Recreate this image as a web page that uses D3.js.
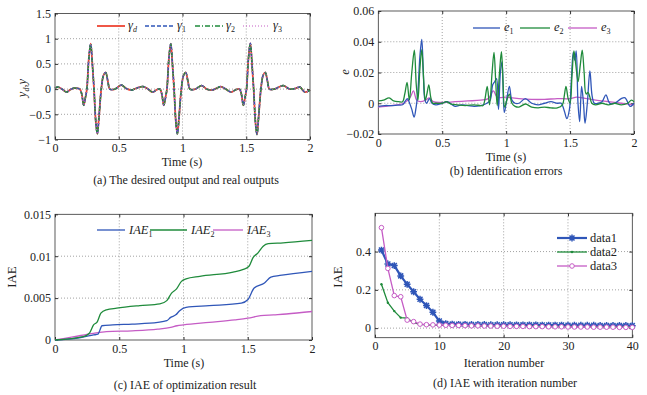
<!DOCTYPE html>
<html>
<head>
<meta charset="utf-8">
<script src="https://cdn.jsdelivr.net/npm/d3@7/dist/d3.min.js"></script>
<style>
  body { margin: 0; background: #fff; }
  text { font-family: "Liberation Serif", "Times New Roman", serif; fill: #222; }
</style>
</head>
<body>
<svg id="fig" width="647" height="395"></svg>
<script>
// ---- (a) output signal; yd, y1, y2, y3 coincide at this scale ----
const outT = [0, 0.025, 0.055, 0.09, 0.12, 0.15, 0.175,
  0.195, 0.21, 0.225, 0.24, 0.25, 0.265, 0.28, 0.293, 0.306, 0.32, 0.332, 0.345, 0.363, 0.38, 0.397, 0.415, 0.43,
  0.47, 0.52, 0.56, 0.6, 0.64, 0.69, 0.73, 0.765, 0.8,
  0.823, 0.838, 0.853, 0.868, 0.878, 0.893, 0.908, 0.921, 0.934, 0.948, 0.96, 0.973, 0.991, 1.008, 1.025, 1.043, 1.058,
  1.1, 1.15, 1.19, 1.23, 1.27, 1.3, 1.34, 1.38, 1.42,
  1.447, 1.462, 1.477, 1.492, 1.502, 1.517, 1.532, 1.545, 1.558, 1.572, 1.584, 1.597, 1.615, 1.632, 1.649, 1.667, 1.682,
  1.72, 1.79, 1.84, 1.88, 1.92, 1.96, 2.0];
const outV = [0.02, 0.04, 0.0, -0.06, -0.01, 0.02, 0.015,
  0, -0.1, -0.32, -0.15, 0, 0.6, 0.9, 0.5, 0, -0.65, -0.89, -0.55, 0, 0.27, 0.33, 0.15, 0,
  0.0, 0.08, 0.01, -0.02, 0.02, 0.05, 0.0, -0.06, -0.01,
  0, -0.1, -0.32, -0.15, 0, 0.6, 0.9, 0.5, 0, -0.65, -0.89, -0.55, 0, 0.27, 0.33, 0.15, 0,
  0.0, 0.07, 0.0, -0.02, 0.02, 0.05, 0.0, -0.06, -0.01,
  0, -0.1, -0.32, -0.15, 0, 0.6, 0.91, 0.5, 0, -0.65, -0.9, -0.55, 0, 0.27, 0.33, 0.15, 0,
  0.0, 0.07, 0.0, 0.01, 0.04, -0.06, -0.02];

// ---- (b) identification errors [t, e] ----
const e1 = [[0,-0.002],[0.05,-0.0015],[0.1,-0.0015],[0.15,-0.0012],[0.19,-0.001],[0.212,0.0015],[0.227,0.003],[0.245,0.0],
  [0.262,-0.004],[0.28,-0.009],[0.295,-0.003],[0.31,0.008],[0.325,0.03],[0.34,0.0415],[0.352,0.02],[0.365,0.002],[0.378,0.0],
  [0.4,0.003],[0.42,0.0],[0.45,-0.001],[0.5,0.0],[0.54,0.001],[0.6,-0.002],[0.65,-0.001],[0.7,-0.0015],[0.75,-0.002],[0.8,-0.0015],
  [0.85,0.0],[0.875,0.002],[0.895,0.012],[0.91,0.014],[0.925,0.016],[0.94,-0.004],[0.955,0.02],[0.968,0.027],[0.985,-0.006],
  [1.0,0.0],[1.025,0.011],[1.045,0.002],[1.07,0.0],[1.1,0.0],[1.15,0.003],[1.2,0.0],[1.25,-0.001],[1.3,0.0],[1.35,0.001],[1.4,0.0],
  [1.43,0.0],[1.455,-0.005],[1.475,-0.010],[1.495,-0.004],[1.51,0.015],[1.525,0.033],[1.537,0.028],[1.548,0.034],[1.562,0.0],
  [1.575,-0.012],[1.59,0.011],[1.605,0.0],[1.617,-0.013],[1.635,0.0],[1.655,0.021],[1.672,0.005],[1.69,0.0],[1.72,0.0],[1.75,0.001],
  [1.78,0.0055],[1.81,0.0],[1.85,0.0],[1.9,0.003],[1.93,0.0035],[1.97,-0.002],[2.0,0.0]];
const e2 = [[0,0.0015],[0.04,0.002],[0.085,0.0035],[0.12,0.0015],[0.16,0.001],[0.19,0.001],[0.207,0.006],[0.225,0.0135],[0.243,0.002],
  [0.262,0.02],[0.282,0.0345],[0.297,0.012],[0.31,0.002],[0.325,0.022],[0.34,0.0348],[0.355,0.015],[0.367,0.002],[0.38,0.006],
  [0.395,0.012],[0.41,0.004],[0.425,0.0],[0.45,0.0],[0.5,0.0],[0.53,0.001],[0.57,-0.0005],[0.62,-0.001],[0.68,-0.0015],[0.75,-0.001],
  [0.8,-0.0015],[0.82,-0.0015],[0.835,0.003],[0.852,0.011],[0.87,-0.001],[0.89,0.02],[0.905,0.033],[0.918,0.015],[0.93,-0.0015],
  [0.948,0.02],[0.963,0.0335],[0.975,0.015],[0.988,-0.0025],[1.005,0.002],[1.025,0.006],[1.045,0.0],[1.07,-0.002],[1.1,-0.0025],
  [1.15,-0.0005],[1.2,-0.0025],[1.25,-0.003],[1.3,-0.0025],[1.35,-0.003],[1.4,-0.003],[1.44,-0.001],[1.455,0.005],[1.468,0.011],
  [1.485,0.003],[1.5,0.0],[1.515,0.018],[1.53,0.034],[1.545,0.025],[1.562,0.014],[1.58,0.025],[1.595,0.0345],[1.61,0.02],[1.625,0.006],
  [1.64,0.007],[1.655,0.004],[1.67,0.0],[1.7,-0.001],[1.75,0.0],[1.8,-0.001],[1.85,0.0],[1.9,-0.001],[1.95,0.0],[1.98,0.002],[2.0,0.001]];
const e3 = [[0,-0.0025],[0.1,-0.0015],[0.2,0.0],[0.25,0.004],[0.275,0.008],[0.3,0.002],[0.33,0.001],[0.37,0.002],[0.4,0.0035],
  [0.43,0.001],[0.5,0.0005],[0.6,0.001],[0.7,0.0015],[0.8,0.002],[0.86,0.003],[0.9,0.008],[0.93,0.004],[1.0,0.004],[1.05,0.0035],
  [1.1,0.003],[1.2,0.0025],[1.3,0.0025],[1.4,0.003],[1.5,0.003],[1.55,0.004],[1.6,0.0035],[1.7,0.002],[1.8,0.001],[1.9,0.0],[2.0,-0.001]];

// ---- (c) IAE vs time [t, IAE] ----
const iae1 = [[0,0],[0.1,0.0001],[0.2,0.0003],[0.3,0.0006],[0.335,0.0007],[0.35,0.0012],[0.365,0.0017],[0.45,0.0018],[0.6,0.0019],
  [0.8,0.0021],[0.87,0.0023],[0.9,0.0027],[0.94,0.003],[0.97,0.0035],[1.02,0.0039],[1.2,0.0041],[1.45,0.0044],[1.5,0.0048],
  [1.55,0.0062],[1.63,0.0068],[1.68,0.0075],[1.75,0.0077],[2.0,0.0082]];
const iae2 = [[0,0],[0.22,0.0004],[0.267,0.0008],[0.3,0.0018],[0.33,0.0022],[0.357,0.0032],[0.4,0.0036],[0.48,0.0038],[0.66,0.0041],
  [0.816,0.0043],[0.87,0.0047],[0.907,0.0056],[0.946,0.0061],[0.984,0.007],[1.02,0.0073],[1.127,0.0076],[1.386,0.0081],[1.46,0.0084],
  [1.51,0.0088],[1.54,0.0098],[1.58,0.0104],[1.62,0.0112],[1.66,0.0115],[1.775,0.0116],[2.0,0.0119]];
const iae3 = [[0,0],[0.15,0.0004],[0.3,0.0008],[0.4,0.001],[0.6,0.0011],[0.8,0.0013],[0.9,0.0015],[0.95,0.0017],[1.0,0.0018],
  [1.2,0.0021],[1.4,0.0024],[1.5,0.0026],[1.6,0.0029],[1.7,0.003],[1.8,0.0031],[2.0,0.0034]];

// ---- (d) IAE vs iteration ----
const iters = d3.range(1, 41);
const data1 = [0.408,0.335,0.327,0.273,0.229,0.19,0.151,0.118,0.083,0.037,0.024,0.021,0.020,0.020,0.019,0.019,0.019,0.018,0.018,0.018,
  0.018,0.017,0.017,0.017,0.017,0.016,0.016,0.016,0.016,0.015,0.015,0.015,0.015,0.015,0.014,0.014,0.014,0.014,0.014,0.013];
const data2 = [0.229,0.133,0.089,0.055,0.052,0.028,0.02,0.017,0.016,0.015,0.014,0.014,0.013,0.013,0.013,0.012,0.012,0.012,0.011,0.011,
  0.011,0.011,0.010,0.010,0.010,0.010,0.009,0.009,0.009,0.009,0.009,0.008,0.008,0.008,0.008,0.008,0.007,0.007,0.007,0.007];
const data3 = [0.525,0.312,0.17,0.164,0.042,0.034,0.021,0.018,0.017,0.016,0.015,0.014,0.014,0.013,0.012,0.012,0.011,0.011,0.010,0.010,
  0.009,0.009,0.009,0.008,0.008,0.008,0.007,0.007,0.007,0.006,0.006,0.006,0.006,0.005,0.005,0.005,0.005,0.004,0.004,0.004];

const timeTicks = [0, 0.5, 1, 1.5, 2];

const RED = "#ee4433", BLUE = "#2f56b8", GREEN = "#1f8b3b", PINK = "#c55cc5";

const svg = d3.select("#fig");
const fmt = d3.format("~g");

// draws the box, dotted grid, inward ticks and tick labels of one panel
function panel(o) {
  const g = svg.append("g");
  const x = d3.scaleLinear().domain(o.xd).range([o.l, o.r]);
  const y = d3.scaleLinear().domain(o.yd).range([o.b, o.t]);

  g.append("g").selectAll("line")
    .data(o.xt.filter(v => v > o.xd[0] && v < o.xd[1]))
    .join("line")
    .attr("x1", d => x(d)).attr("x2", d => x(d))
    .attr("y1", o.t).attr("y2", o.b)
    .attr("stroke", "#8a8a8a").attr("stroke-width", 0.8).attr("stroke-dasharray", "1,2");
  g.append("g").selectAll("line")
    .data(o.yt.filter(v => v > o.yd[0] && v < o.yd[1]))
    .join("line")
    .attr("y1", d => y(d)).attr("y2", d => y(d))
    .attr("x1", o.l).attr("x2", o.r)
    .attr("stroke", "#8a8a8a").attr("stroke-width", 0.8).attr("stroke-dasharray", "1,2");

  const style = sel => {
    sel.select(".domain").remove();
    sel.selectAll("line").attr("stroke", "#333");
    sel.selectAll("text").attr("font-family", null).attr("font-size", 12).attr("fill", "#222");
    sel.attr("font-family", null).attr("font-size", 12);
  };
  g.append("g").attr("transform", `translate(0,${o.b})`)
    .call(d3.axisBottom(x).tickValues(o.xt).tickSize(-3).tickPadding(4).tickFormat(fmt)).call(style);
  g.append("g").attr("transform", `translate(0,${o.t})`)
    .call(d3.axisTop(x).tickValues(o.xt).tickSize(-3).tickFormat("")).call(style);
  g.append("g").attr("transform", `translate(${o.l},0)`)
    .call(d3.axisLeft(y).tickValues(o.yt).tickSize(-3).tickPadding(4).tickFormat(fmt)).call(style);
  g.append("g").attr("transform", `translate(${o.r},0)`)
    .call(d3.axisRight(y).tickValues(o.yt).tickSize(-3).tickFormat("")).call(style);

  g.append("rect").attr("x", o.l).attr("y", o.t)
    .attr("width", o.r - o.l).attr("height", o.b - o.t)
    .attr("fill", "none").attr("stroke", "#333").attr("stroke-width", 0.8);

  const plot = g.append("g");
  return { g, plot, x, y };
}

function label(x, y, str, opts = {}) {
  const t = svg.append("text").attr("x", x).attr("y", y)
    .attr("text-anchor", opts.anchor || "middle").attr("font-size", opts.size || 12);
  if (opts.rotate) t.attr("transform", `rotate(-90,${x},${y})`);
  return t.text(str);
}

// subscript legend text: base (italic) + sub
function subText(parent, x, y, base, sub, subItalic) {
  const t = parent.append("text").attr("x", x).attr("y", y).attr("font-size", 12.5);
  t.append("tspan").attr("font-style", "italic").text(base);
  t.append("tspan").attr("dy", 3).attr("font-size", 8)
    .attr("font-style", subItalic ? "italic" : "normal").text(sub);
  return t;
}

// ================= (a) =================
{
  const p = panel({ l: 55, r: 310, t: 13.5, b: 139.5, xd: [0, 2], yd: [-1, 1.5],
    xt: timeTicks, yt: [-1, -0.5, 0, 0.5, 1, 1.5] });
  const pts = outT.map((t, i) => [t, outV[i]]);
  const line = d3.line().x(d => p.x(d[0])).y(d => p.y(d[1])).curve(d3.curveCatmullRom.alpha(0.5));
  const series = [
    { c: RED, dash: null, w: 1.8 },
    { c: BLUE, dash: "4,2", w: 1.5 },
    { c: GREEN, dash: "5,2,1,2", w: 1.5 },
    { c: PINK, dash: "1,2", w: 1 }
  ];
  series.forEach(s => {
    p.plot.append("path").datum(pts).attr("d", line)
      .attr("fill", "none").attr("stroke", s.c).attr("stroke-width", s.w)
      .attr("stroke-dasharray", s.dash);
  });
  const lg = svg.append("g");
  const items = [["d", 97, 125, true], ["1", 145, 174, false], ["2", 195, 223, false], ["3", 243, 270, false]];
  items.forEach((it, i) => {
    lg.append("line").attr("x1", it[1]).attr("x2", it[2]).attr("y1", 26).attr("y2", 26)
      .attr("stroke", series[i].c).attr("stroke-width", series[i].w).attr("stroke-dasharray", series[i].dash);
    subText(lg, it[2] + 3, 29, "γ", it[0], it[3]);
  });
  const yl = svg.append("text").attr("transform", "translate(26,88) rotate(-90)")
    .attr("text-anchor", "middle").attr("font-size", 12.5);
  yl.append("tspan").attr("font-style", "italic").text("y");
  yl.append("tspan").attr("dy", 3).attr("font-size", 8).attr("font-style", "italic").text("d");
  yl.append("tspan").attr("dy", -3).text(",");
  yl.append("tspan").attr("font-style", "italic").text("y");
  label(182, 166, "Time (s)");
  label(186, 184, "(a) The desired output and real outputs");
}

// ================= (b) =================
{
  const p = panel({ l: 378.3, r: 634, t: 11, b: 134, xd: [0, 2], yd: [-0.02, 0.06],
    xt: timeTicks, yt: [-0.02, 0, 0.02, 0.04, 0.06] });
  const line = d3.line().x(d => p.x(d[0])).y(d => p.y(d[1])).curve(d3.curveCatmullRom.alpha(0.5));
  [[e3, PINK], [e1, BLUE], [e2, GREEN]].forEach(([d, c]) => {
    p.plot.append("path").datum(d).attr("d", line)
      .attr("fill", "none").attr("stroke", c).attr("stroke-width", 1.3);
  });
  const lg = svg.append("g");
  [["1", 473, 500, BLUE], ["2", 520, 550, GREEN], ["3", 568, 597, PINK]].forEach(it => {
    lg.append("line").attr("x1", it[1]).attr("x2", it[2]).attr("y1", 28).attr("y2", 28)
      .attr("stroke", it[3]).attr("stroke-width", 1.3);
    subText(lg, it[2] + 4, 31, "e", it[0], false);
  });
  label(349, 72, "e", { rotate: true, size: 12.5 }).attr("font-style", "italic");
  label(506, 161, "Time (s)");
  label(506, 175, "(b) Identification errors");
}

// ================= (c) =================
{
  const p = panel({ l: 55, r: 312, t: 214.3, b: 340, xd: [0, 2], yd: [0, 0.015],
    xt: timeTicks, yt: [0, 0.005, 0.01, 0.015] });
  const line = d3.line().x(d => p.x(d[0])).y(d => p.y(d[1])).curve(d3.curveMonotoneX);
  [[iae3, PINK], [iae1, BLUE], [iae2, GREEN]].forEach(([d, c]) => {
    p.plot.append("path").datum(d).attr("d", line)
      .attr("fill", "none").attr("stroke", c).attr("stroke-width", 1.3);
  });
  const lg = svg.append("g");
  [["1", 97, 125, BLUE], ["2", 150, 187, GREEN], ["3", 213, 243, PINK]].forEach(it => {
    lg.append("line").attr("x1", it[1]).attr("x2", it[2]).attr("y1", 230).attr("y2", 230)
      .attr("stroke", it[3]).attr("stroke-width", 1.3);
    subText(lg, it[2] + 4, 234, "IAE", it[0], false);
  });
  label(16, 277, "IAE", { rotate: true, size: 13 });
  label(184, 367, "Time (s)");
  label(185, 389, "(c) IAE of optimization result");
}

// ================= (d) =================
{
  const p = panel({ l: 375, r: 632.3, t: 213.3, b: 337.7, xd: [0, 40], yd: [-0.05, 0.6],
    xt: [0, 10, 20, 30, 40], yt: [0, 0.2, 0.4] });
  const line = d3.line().x(d => p.x(d[0])).y(d => p.y(d[1]));
  const star = "M-3.4,0H3.4M0,-3.4V3.4M-2.5,-2.5L2.5,2.5M-2.5,2.5L2.5,-2.5";
  const s1 = iters.map((n, i) => [n, data1[i]]);
  const s2 = iters.map((n, i) => [n, data2[i]]);
  const s3 = iters.map((n, i) => [n, data3[i]]);

  p.plot.append("path").datum(s1).attr("d", line).attr("fill", "none")
    .attr("stroke", BLUE).attr("stroke-width", 2.2);
  p.plot.append("g").selectAll("path").data(s1).join("path")
    .attr("transform", d => `translate(${p.x(d[0])},${p.y(d[1])})`)
    .attr("d", star).attr("stroke", BLUE).attr("stroke-width", 1.5);

  p.plot.append("path").datum(s2).attr("d", line).attr("fill", "none")
    .attr("stroke", GREEN).attr("stroke-width", 1.3);
  p.plot.append("g").selectAll("circle").data(s2).join("circle")
    .attr("cx", d => p.x(d[0])).attr("cy", d => p.y(d[1])).attr("r", 1.2).attr("fill", GREEN);

  p.plot.append("path").datum(s3).attr("d", line).attr("fill", "none")
    .attr("stroke", PINK).attr("stroke-width", 1.3);
  p.plot.append("g").selectAll("circle").data(s3).join("circle")
    .attr("cx", d => p.x(d[0])).attr("cy", d => p.y(d[1])).attr("r", 2.3)
    .attr("fill", "#fff").attr("stroke", PINK).attr("stroke-width", 1);

  const lg = svg.append("g");
  const lx1 = 557, lx2 = 587, mx = 572;
  lg.append("line").attr("x1", lx1).attr("x2", lx2).attr("y1", 238).attr("y2", 238)
    .attr("stroke", BLUE).attr("stroke-width", 2.2);
  lg.append("path").attr("transform", `translate(${mx},238)`).attr("d", star)
    .attr("stroke", BLUE).attr("stroke-width", 1.5);
  lg.append("line").attr("x1", lx1).attr("x2", lx2).attr("y1", 252).attr("y2", 252)
    .attr("stroke", GREEN).attr("stroke-width", 1.3);
  lg.append("circle").attr("cx", mx).attr("cy", 252).attr("r", 1.2).attr("fill", GREEN);
  lg.append("line").attr("x1", lx1).attr("x2", lx2).attr("y1", 266).attr("y2", 266)
    .attr("stroke", PINK).attr("stroke-width", 1.3);
  lg.append("circle").attr("cx", mx).attr("cy", 266).attr("r", 2.3)
    .attr("fill", "#fff").attr("stroke", PINK);
  ["data1", "data2", "data3"].forEach((s, i) => {
    lg.append("text").attr("x", 590).attr("y", 242 + i * 14).attr("font-size", 12.5).text(s);
  });

  label(342, 277, "IAE", { rotate: true, size: 13 });
  label(504, 367, "Iteration number");
  label(505, 387, "(d) IAE with iteration number");
}
</script>
</body>
</html>
